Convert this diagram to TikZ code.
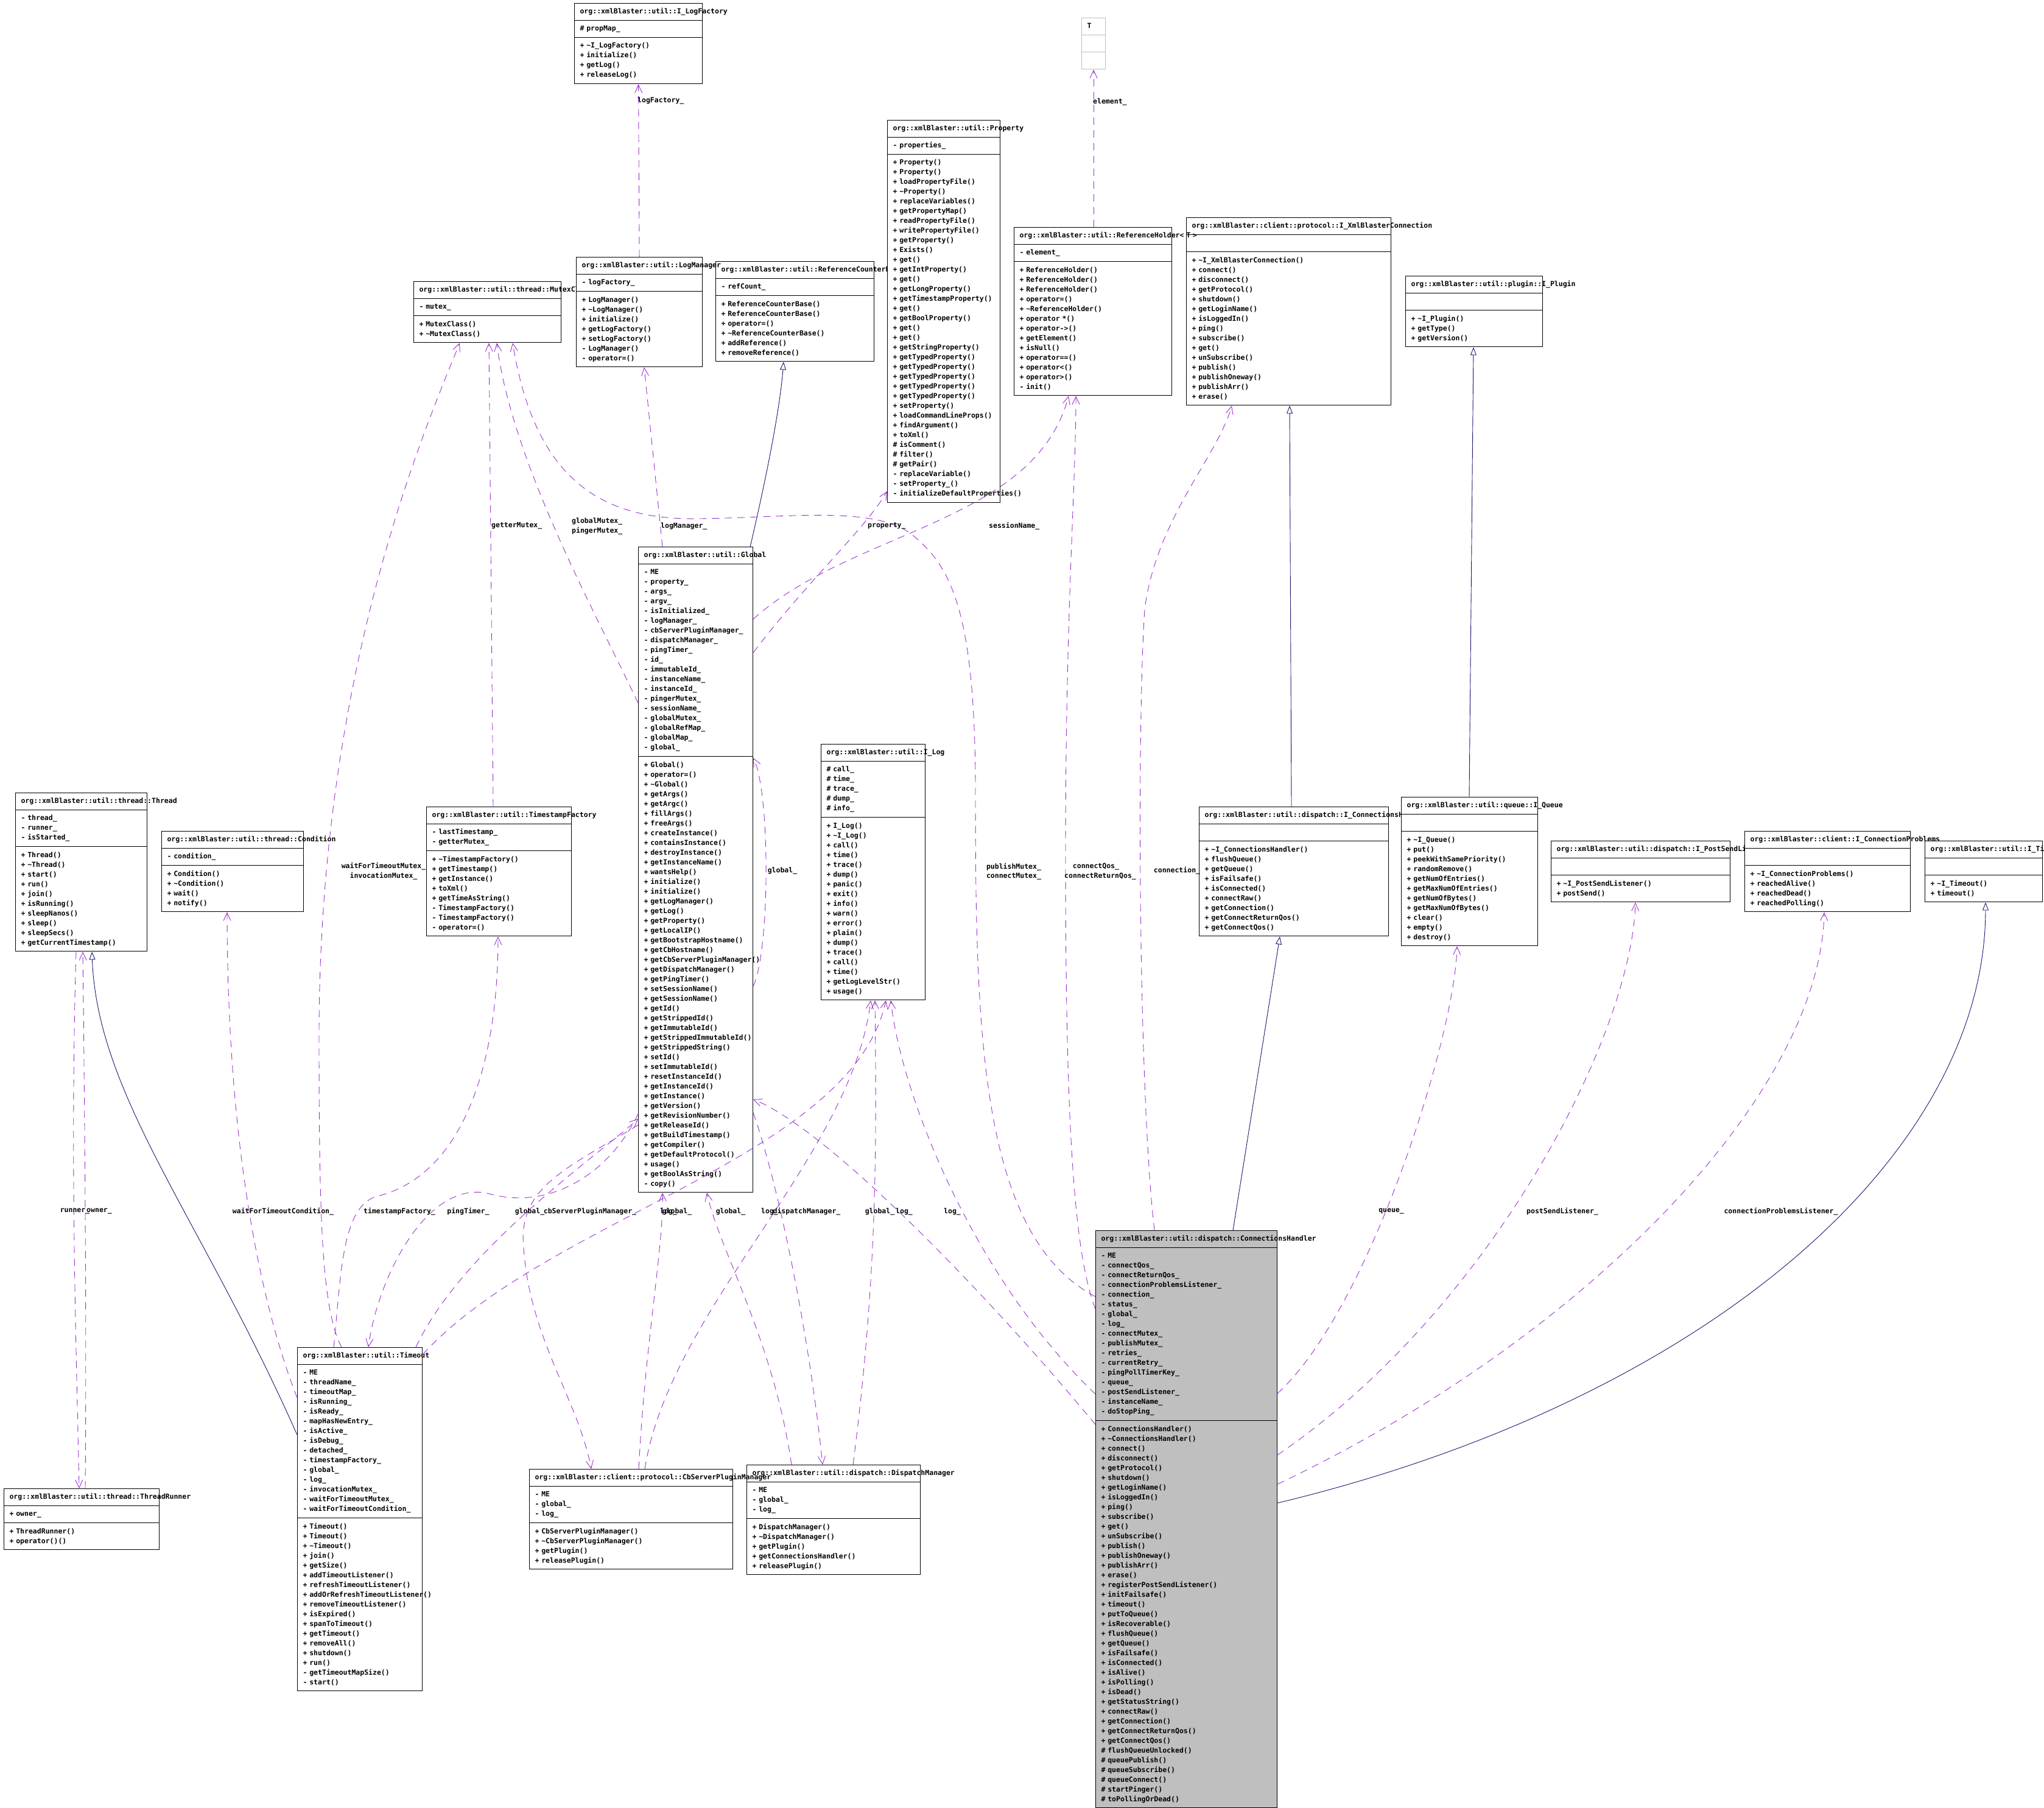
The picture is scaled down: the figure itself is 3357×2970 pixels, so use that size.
\documentclass[tikz,border=0pt]{standalone}
\usepackage{fontspec}
\setmonofont[HyphenChar=None]{DejaVu Sans Mono}
\usetikzlibrary{shapes.multipart,arrows.meta}

\definecolor{usecol}{HTML}{9A32CD}
\definecolor{inhcol}{HTML}{191970}
\definecolor{boxgray}{HTML}{BFBFBF}
\newcommand{\classfont}{\ttfamily\bfseries\fontsize{11.5}{16}\selectfont}
\newcommand{\rows}[1]{\strut#1\strut}
\newcommand{\tld}{\textasciitilde}

\begin{document}
\begin{tikzpicture}[x=1pt, y=-1pt,
            classbox/.style={draw=black, fill=white, line width=1.1pt, rectangle split, rectangle split parts=3, anchor=north west, inner xsep=9pt, inner ysep=5.5pt, align=left, font=\classfont},
            tparam/.style={classbox, draw=boxgray},
            mainclass/.style={classbox, fill=boxgray},
            usage/.style={draw=usecol, line width=0.9pt, dash pattern=on 12pt off 9pt, -{Straight Barb[length=13pt, width=12pt]}},
            inherit/.style={draw=inhcol, line width=0.9pt, -{Triangle[open, length=13pt, width=10pt]}},
            elabel/.style={font=\classfont, inner sep=0pt}
        ]
        \useasboundingbox[fill=white] (0,0) rectangle (3357,2970);

        % Klassen
        \node[classbox, text width=192pt] (ilogfactory) at (943,5) {\rows{org::xmlBlaster::util::I\_LogFactory} \nodepart{second} \rows{\#~propMap\_} \nodepart{third} \rows{+~\tld I\_LogFactory()\\ +~initialize()\\ +~getLog()\\ +~releaseLog()}};

        \node[tparam, text width=21pt] (tparm) at (1776,29) {\rows{T} \nodepart{second} \rows{} \nodepart{third} \rows{}};

        \node[classbox, text width=224pt] (mutexclass) at (679,462) {\rows{org::xmlBlaster::util::thread::MutexClass} \nodepart{second} \rows{-~mutex\_} \nodepart{third} \rows{+~MutexClass()\\ +~\tld MutexClass()}};

        \node[classbox, text width=242pt] (refcounter) at (1175,429) {\rows{org::xmlBlaster::util::ReferenceCounterBase} \nodepart{second} \rows{-~refCount\_} \nodepart{third} \rows{+~ReferenceCounterBase()\\ +~ReferenceCounterBase()\\ +~operator=()\\ +~\tld ReferenceCounterBase()\\ +~addReference()\\ +~removeReference()}};

        \node[classbox, text width=189pt] (logmanager) at (946,422) {\rows{org::xmlBlaster::util::LogManager} \nodepart{second} \rows{-~logFactory\_} \nodepart{third} \rows{+~LogManager()\\ +~\tld LogManager()\\ +~initialize()\\ +~getLogFactory()\\ +~setLogFactory()\\ -~LogManager()\\ -~operator=()}};

        \node[classbox, text width=167pt] (property) at (1457,197) {\rows{org::xmlBlaster::util::Property} \nodepart{second} \rows{-~properties\_} \nodepart{third} \rows{+~Property()\\ +~Property()\\ +~loadPropertyFile()\\ +~\tld Property()\\ +~replaceVariables()\\ +~getPropertyMap()\\ +~readPropertyFile()\\ +~writePropertyFile()\\ +~getProperty()\\ +~Exists()\\ +~get()\\ +~getIntProperty()\\ +~get()\\ +~getLongProperty()\\ +~getTimestampProperty()\\ +~get()\\ +~getBoolProperty()\\ +~get()\\ +~get()\\ +~getStringProperty()\\ +~getTypedProperty()\\ +~getTypedProperty()\\ +~getTypedProperty()\\ +~getTypedProperty()\\ +~getTypedProperty()\\ +~setProperty()\\ +~loadCommandLineProps()\\ +~findArgument()\\ +~toXml()\\ \#~isComment()\\ \#~filter()\\ \#~getPair()\\ -~replaceVariable()\\ -~setProperty\_()\\ -~initializeDefaultProperties()}};

        \node[classbox, text width=318pt] (ixmlconn) at (1948,357) {\rows{org::xmlBlaster::client::protocol::I\_XmlBlasterConnection} \nodepart{second} \rows{} \nodepart{third} \rows{+~\tld I\_XmlBlasterConnection()\\ +~connect()\\ +~disconnect()\\ +~getProtocol()\\ +~shutdown()\\ +~getLoginName()\\ +~isLoggedIn()\\ +~ping()\\ +~subscribe()\\ +~get()\\ +~unSubscribe()\\ +~publish()\\ +~publishOneway()\\ +~publishArr()\\ +~erase()}};

        \node[classbox, text width=241pt] (refholder) at (1665,373) {\rows{org::xmlBlaster::util::ReferenceHolder<~T~>} \nodepart{second} \rows{-~element\_} \nodepart{third} \rows{+~ReferenceHolder()\\ +~ReferenceHolder()\\ +~ReferenceHolder()\\ +~operator=()\\ +~\tld ReferenceHolder()\\ +~operator~*()\\ +~operator->()\\ +~getElement()\\ +~isNull()\\ +~operator==()\\ +~operator<()\\ +~operator>()\\ -~init()}};

        \node[classbox, text width=207pt] (iplugin) at (2308,453) {\rows{org::xmlBlaster::util::plugin::I\_Plugin} \nodepart{second} \rows{} \nodepart{third} \rows{+~\tld I\_Plugin()\\ +~getType()\\ +~getVersion()}};

        \node[classbox, text width=170pt] (global) at (1048,898) {\rows{org::xmlBlaster::util::Global} \nodepart{second} \rows{-~ME\\ -~property\_\\ -~args\_\\ -~argv\_\\ -~isInitialized\_\\ -~logManager\_\\ -~cbServerPluginManager\_\\ -~dispatchManager\_\\ -~pingTimer\_\\ -~id\_\\ -~immutableId\_\\ -~instanceName\_\\ -~instanceId\_\\ -~pingerMutex\_\\ -~sessionName\_\\ -~globalMutex\_\\ -~globalRefMap\_\\ -~globalMap\_\\ -~global\_} \nodepart{third} \rows{+~Global()\\ +~operator=()\\ +~\tld Global()\\ +~getArgs()\\ +~getArgc()\\ +~fillArgs()\\ +~freeArgs()\\ +~createInstance()\\ +~containsInstance()\\ +~destroyInstance()\\ +~getInstanceName()\\ +~wantsHelp()\\ +~initialize()\\ +~initialize()\\ +~getLogManager()\\ +~getLog()\\ +~getProperty()\\ +~getLocalIP()\\ +~getBootstrapHostname()\\ +~getCbHostname()\\ +~getCbServerPluginManager()\\ +~getDispatchManager()\\ +~getPingTimer()\\ +~setSessionName()\\ +~getSessionName()\\ +~getId()\\ +~getStrippedId()\\ +~getImmutableId()\\ +~getStrippedImmutableId()\\ +~getStrippedString()\\ +~setId()\\ +~setImmutableId()\\ +~resetInstanceId()\\ +~getInstanceId()\\ +~getInstance()\\ +~getVersion()\\ +~getRevisionNumber()\\ +~getReleaseId()\\ +~getBuildTimestamp()\\ +~getCompiler()\\ +~getDefaultProtocol()\\ +~usage()\\ +~getBoolAsString()\\ -~copy()}};

        \node[classbox, text width=198pt] (thread) at (25,1302) {\rows{org::xmlBlaster::util::thread::Thread} \nodepart{second} \rows{-~thread\_\\ -~runner\_\\ -~isStarted\_} \nodepart{third} \rows{+~Thread()\\ +~\tld Thread()\\ +~start()\\ +~run()\\ +~join()\\ +~isRunning()\\ +~sleepNanos()\\ +~sleep()\\ +~sleepSecs()\\ +~getCurrentTimestamp()}};

        \node[classbox, text width=215pt] (condition) at (265,1365) {\rows{org::xmlBlaster::util::thread::Condition} \nodepart{second} \rows{-~condition\_} \nodepart{third} \rows{+~Condition()\\ +~\tld Condition()\\ +~wait()\\ +~notify()}};

        \node[classbox, text width=220pt] (timestamp) at (700,1325) {\rows{org::xmlBlaster::util::TimestampFactory} \nodepart{second} \rows{-~lastTimestamp\_\\ -~getterMutex\_} \nodepart{third} \rows{+~\tld TimestampFactory()\\ +~getTimestamp()\\ +~getInstance()\\ +~toXml()\\ +~getTimeAsString()\\ -~TimestampFactory()\\ -~TimestampFactory()\\ -~operator=()}};

        \node[classbox, text width=153pt] (ilog) at (1348,1222) {\rows{org::xmlBlaster::util::I\_Log} \nodepart{second} \rows{\#~call\_\\ \#~time\_\\ \#~trace\_\\ \#~dump\_\\ \#~info\_} \nodepart{third} \rows{+~I\_Log()\\ +~\tld I\_Log()\\ +~call()\\ +~time()\\ +~trace()\\ +~dump()\\ +~panic()\\ +~exit()\\ +~info()\\ +~warn()\\ +~error()\\ +~plain()\\ +~dump()\\ +~trace()\\ +~call()\\ +~time()\\ +~getLogLevelStr()\\ +~usage()}};

        \node[classbox, text width=293pt] (iconnhandler) at (1969,1325) {\rows{org::xmlBlaster::util::dispatch::I\_ConnectionsHandler} \nodepart{second} \rows{} \nodepart{third} \rows{+~\tld I\_ConnectionsHandler()\\ +~flushQueue()\\ +~getQueue()\\ +~isFailsafe()\\ +~isConnected()\\ +~connectRaw()\\ +~getConnection()\\ +~getConnectReturnQos()\\ +~getConnectQos()}};

        \node[classbox, text width=206pt] (iqueue) at (2301,1309) {\rows{org::xmlBlaster::util::queue::I\_Queue} \nodepart{second} \rows{} \nodepart{third} \rows{+~\tld I\_Queue()\\ +~put()\\ +~peekWithSamePriority()\\ +~randomRemove()\\ +~getNumOfEntries()\\ +~getMaxNumOfEntries()\\ +~getNumOfBytes()\\ +~getMaxNumOfBytes()\\ +~clear()\\ +~empty()\\ +~destroy()}};

        \node[classbox, text width=276pt] (ipostsend) at (2547,1381) {\rows{org::xmlBlaster::util::dispatch::I\_PostSendListener} \nodepart{second} \rows{} \nodepart{third} \rows{+~\tld I\_PostSendListener()\\ +~postSend()}};

        \node[classbox, text width=254pt] (iconnprob) at (2865,1365) {\rows{org::xmlBlaster::client::I\_ConnectionProblems} \nodepart{second} \rows{} \nodepart{third} \rows{+~\tld I\_ConnectionProblems()\\ +~reachedAlive()\\ +~reachedDead()\\ +~reachedPolling()}};

        \node[classbox, text width=175pt] (itimeout) at (3161,1381) {\rows{org::xmlBlaster::util::I\_Timeout} \nodepart{second} \rows{} \nodepart{third} \rows{+~\tld I\_Timeout()\\ +~timeout()}};

        \node[mainclass, text width=280pt] (connhandler) at (1799,2021) {\rows{org::xmlBlaster::util::dispatch::ConnectionsHandler} \nodepart{second} \rows{-~ME\\ -~connectQos\_\\ -~connectReturnQos\_\\ -~connectionProblemsListener\_\\ -~connection\_\\ -~status\_\\ -~global\_\\ -~log\_\\ -~connectMutex\_\\ -~publishMutex\_\\ -~retries\_\\ -~currentRetry\_\\ -~pingPollTimerKey\_\\ -~queue\_\\ -~postSendListener\_\\ -~instanceName\_\\ -~doStopPing\_} \nodepart{third} \rows{+~ConnectionsHandler()\\ +~\tld ConnectionsHandler()\\ +~connect()\\ +~disconnect()\\ +~getProtocol()\\ +~shutdown()\\ +~getLoginName()\\ +~isLoggedIn()\\ +~ping()\\ +~subscribe()\\ +~get()\\ +~unSubscribe()\\ +~publish()\\ +~publishOneway()\\ +~publishArr()\\ +~erase()\\ +~registerPostSendListener()\\ +~initFailsafe()\\ +~timeout()\\ +~putToQueue()\\ +~isRecoverable()\\ +~flushQueue()\\ +~getQueue()\\ +~isFailsafe()\\ +~isConnected()\\ +~isAlive()\\ +~isPolling()\\ +~isDead()\\ +~getStatusString()\\ +~connectRaw()\\ +~getConnection()\\ +~getConnectReturnQos()\\ +~getConnectQos()\\ \#~flushQueueUnlocked()\\ \#~queuePublish()\\ \#~queueSubscribe()\\ \#~queueConnect()\\ \#~startPinger()\\ \#~toPollingOrDead()}};

        \node[classbox, text width=187pt] (timeout) at (488,2213) {\rows{org::xmlBlaster::util::Timeout} \nodepart{second} \rows{-~ME\\ -~threadName\_\\ -~timeoutMap\_\\ -~isRunning\_\\ -~isReady\_\\ -~mapHasNewEntry\_\\ -~isActive\_\\ -~isDebug\_\\ -~detached\_\\ -~timestampFactory\_\\ -~global\_\\ -~log\_\\ -~invocationMutex\_\\ -~waitForTimeoutMutex\_\\ -~waitForTimeoutCondition\_} \nodepart{third} \rows{+~Timeout()\\ +~Timeout()\\ +~\tld Timeout()\\ +~join()\\ +~getSize()\\ +~addTimeoutListener()\\ +~refreshTimeoutListener()\\ +~addOrRefreshTimeoutListener()\\ +~removeTimeoutListener()\\ +~isExpired()\\ +~spanToTimeout()\\ +~getTimeout()\\ +~removeAll()\\ +~shutdown()\\ +~run()\\ -~getTimeoutMapSize()\\ -~start()}};

        \node[classbox, text width=237pt] (threadrunner) at (6,2445) {\rows{org::xmlBlaster::util::thread::ThreadRunner} \nodepart{second} \rows{+~owner\_} \nodepart{third} \rows{+~ThreadRunner()\\ +~operator()()}};

        \node[classbox, text width=267pt] (dispatch) at (1226,2406) {\rows{org::xmlBlaster::util::dispatch::DispatchManager} \nodepart{second} \rows{-~ME\\ -~global\_\\ -~log\_} \nodepart{third} \rows{+~DispatchManager()\\ +~\tld DispatchManager()\\ +~getPlugin()\\ +~getConnectionsHandler()\\ +~releasePlugin()}};

        \node[classbox, text width=316pt] (cbplugin) at (869,2413) {\rows{org::xmlBlaster::client::protocol::CbServerPluginManager} \nodepart{second} \rows{-~ME\\ -~global\_\\ -~log\_} \nodepart{third} \rows{+~CbServerPluginManager()\\ +~\tld CbServerPluginManager()\\ +~getPlugin()\\ +~releasePlugin()}};

        % Vererbung
        \draw[inherit] ([shift={(-5,0)}]global.north east) .. controls (1255,800) and (1280,680) .. ([shift={(112,0)}]refcounter.south west);
        \draw[inherit] ([shift={(0,144)}]timeout.north west) .. controls (330,2000) and (160,1800) .. ([shift={(126,0)}]thread.south west);
        \draw[inherit] ([shift={(226,0)}]connhandler.north west) -- ([shift={(133,0)}]iconnhandler.south west);
        \draw[inherit] ([shift={(152,0)}]iconnhandler.north west) -- ([shift={(170,0)}]ixmlconn.south west);
        \draw[inherit] ([shift={(112,0)}]iqueue.north west) -- ([shift={(112,0)}]iplugin.south west);
        \draw[inherit] ([shift={(0,448)}]connhandler.north east) .. controls (2800,2300) and (3260,1900) .. ([shift={(100,0)}]itimeout.south west);

        % Benutzung
        \draw[usage] (logmanager.north) -- (ilogfactory.south);
        \draw[usage] (tparm.south |- refholder.north) -- (tparm.south);
        \draw[usage] ([shift={(40,0)}]global.north west) -- ([shift={(112,0)}]logmanager.south west);
        \draw[usage] ([shift={(110,0)}]timestamp.north west) -- ([shift={(124,0)}]mutexclass.south west);
        \draw[usage] ([shift={(0,257)}]global.north west) .. controls (985,1020) and (840,760) .. ([shift={(137,0)}]mutexclass.south west);
        \draw[usage] ([shift={(0,109)}]connhandler.north west) .. controls (1610,2030) and (1602,1700) .. (1602,1300) .. controls (1602,1000) and (1560,930) .. (1500,880) .. controls (1440,830) and (1300,850) .. (1150,852) .. controls (1000,855) and (880,800) .. ([shift={(163,0)}]mutexclass.south west);
        \draw[usage] ([shift={(73,0)}]timeout.north west) .. controls (528,2150) and (524,2000) .. (524,1700) .. controls (524,1100) and (700,700) .. ([shift={(76,0)}]mutexclass.south west);
        \draw[usage] ([shift={(0,83)}]timeout.north west) .. controls (450,2200) and (373,1950) .. ([shift={(108,0)}]condition.south west);
        \draw[usage] ([shift={(60,0)}]timeout.north west) .. controls (560,2100) and (560,1980) .. (620,1965) .. controls (760,1930) and (818,1750) .. ([shift={(118,0)}]timestamp.south west);
        \draw[usage] ([shift={(0,932)}]global.north west) .. controls (1000,1930) and (900,1990) .. (800,1960) .. controls (700,1940) and (620,2100) .. ([shift={(117,0)}]timeout.north west);
        \draw[usage] ([shift={(195,0)}]timeout.north west) .. controls (760,2050) and (980,1900) .. ([shift={(0,940)}]global.north west);
        \draw[usage] ([shift={(0,950)}]global.north west) .. controls (930,1920) and (850,1950) .. (860,2050) .. controls (870,2200) and (950,2300) .. ([shift={(102,0)}]cbplugin.north west);
        \draw[usage] ([shift={(180,0)}]cbplugin.north west) .. controls (1060,2200) and (1090,2050) .. ([shift={(40,0)}]global.south west);
        \draw[usage] ([shift={(190,0)}]cbplugin.north west) .. controls (1100,2150) and (1400,1900) .. ([shift={(82,0)}]ilog.south west);
        \draw[usage] ([shift={(74,0)}]dispatch.north west) .. controls (1270,2200) and (1180,2050) .. ([shift={(113,0)}]global.south west);
        \draw[usage] ([shift={(0,930)}]global.north east) .. controls (1280,1950) and (1330,2200) .. ([shift={(125,0)}]dispatch.north west);
        \draw[usage] ([shift={(175,0)}]dispatch.north west) .. controls (1440,2100) and (1440,1900) .. ([shift={(89,0)}]ilog.south west);
        \draw[usage] ([shift={(0,12)}]timeout.north east) .. controls (900,2000) and (1400,1900) .. ([shift={(107,0)}]ilog.south west);
        \draw[usage] ([shift={(0,722)}]global.north east) .. controls (1265,1560) and (1265,1300) .. ([shift={(0,347)}]global.north east);
        \draw[usage] ([shift={(0,174)}]global.north east) .. controls (1330,950) and (1420,870) .. ([shift={(0,610)}]property.north west);
        \draw[usage] ([shift={(0,119)}]global.north east) .. controls (1400,870) and (1700,860) .. ([shift={(90,0)}]refholder.south west);
        \draw[usage] ([shift={(0,129)}]connhandler.north west) .. controls (1760,2050) and (1750,1800) .. (1750,1400) .. controls (1750,1000) and (1767,800) .. ([shift={(102,0)}]refholder.south west);
        \draw[usage] ([shift={(97,0)}]connhandler.north west) .. controls (1870,1800) and (1867,1200) .. (1880,1000) .. controls (1900,850) and (2000,750) .. ([shift={(75,0)}]ixmlconn.south west);
        \draw[usage] ([shift={(0,319)}]connhandler.north west) .. controls (1600,2100) and (1350,1850) .. ([shift={(0,908)}]global.north east);
        \draw[usage] ([shift={(0,269)}]connhandler.north west) .. controls (1600,2100) and (1480,1800) .. ([shift={(115,0)}]ilog.south west);
        \draw[usage] ([shift={(0,268)}]connhandler.north east) .. controls (2250,2150) and (2390,1700) .. ([shift={(92,0)}]iqueue.south west);
        \draw[usage] ([shift={(0,369)}]connhandler.north east) .. controls (2450,2150) and (2680,1700) .. ([shift={(139,0)}]ipostsend.south west);
        \draw[usage] ([shift={(0,417)}]connhandler.north east) .. controls (2600,2200) and (2990,1800) .. ([shift={(131,0)}]iconnprob.south west);
        \draw[usage] ([shift={(100,0)}]thread.south west) .. controls (115,1900) and (125,2200) .. ([shift={(124,0)}]threadrunner.north west);
        \draw[usage] ([shift={(134,0)}]threadrunner.north west) .. controls (142,2200) and (140,1900) .. ([shift={(111,0)}]thread.south west);

        % Beschriftungen
        \node[elabel, anchor=west] (lbllogfactory) at (1047,165) {logFactory\_};
        \node[elabel, anchor=west] (lblelement) at (1795,167) {element\_};
        \node[elabel, anchor=west] (lbllogmanager) at (1085,864) {logManager\_};
        \node[elabel, anchor=west] (lblgetter) at (807,864) {getterMutex\_};
        \node[elabel, anchor=west] (lblglobalmutex) at (939,856) {globalMutex\_};
        \node[elabel, anchor=west] (lblpinger) at (939,872) {pingerMutex\_};
        \node[elabel, anchor=west] (lblproperty) at (1425,864) {property\_};
        \node[elabel, anchor=west] (lblsession) at (1624,864) {sessionName\_};
        \node[elabel] (lblwaitmutex) at (630,1423) {waitForTimeoutMutex\_};
        \node[elabel] (lblinvocation) at (630,1439) {invocationMutex\_};
        \node[elabel] (lblglobalself) at (1285,1430) {global\_};
        \node[elabel] (lblpublish) at (1665,1424) {publishMutex\_};
        \node[elabel] (lblconnect) at (1665,1440) {connectMutex\_};
        \node[elabel] (lblconnqos) at (1800,1424) {connectQos\_};
        \node[elabel] (lblconnret) at (1807,1440) {connectReturnQos\_};
        \node[elabel] (lblconnection) at (1933,1430) {connection\_};
        \node[elabel] (lblrunner) at (123,1990) {runner\_};
        \node[elabel] (lblowner) at (163,1990) {owner\_};
        \node[elabel] (lblwaitcond) at (465,1990) {waitForTimeoutCondition\_};
        \node[elabel] (lbltsfactory) at (656,1990) {timestampFactory\_};
        \node[elabel] (lblpingtimer) at (769,1990) {pingTimer\_};
        \node[elabel] (lbltoglobal) at (870,1990) {global\_};
        \node[elabel] (lblcbplugin) at (969,1990) {cbServerPluginManager\_};
        \node[elabel] (lblcblog) at (1098,1990) {log\_};
        \node[elabel] (lblcbglobal) at (1112,1990) {global\_};
        \node[elabel] (lbldmglobal) at (1200,1990) {global\_};
        \node[elabel] (lbldmlog) at (1264,1990) {log\_};
        \node[elabel] (lbldispatch) at (1325,1990) {dispatchManager\_};
        \node[elabel] (lblchglobal) at (1445,1990) {global\_};
        \node[elabel] (lbltolog) at (1485,1990) {log\_};
        \node[elabel] (lblchlog) at (1564,1990) {log\_};
        \node[elabel] (lblqueue) at (2285,1990) {queue\_};
        \node[elabel] (lblpostsend) at (2566,1990) {postSendListener\_};
        \node[elabel] (lblconnprob) at (2925,1990) {connectionProblemsListener\_};

    \end{tikzpicture}
\end{document}
